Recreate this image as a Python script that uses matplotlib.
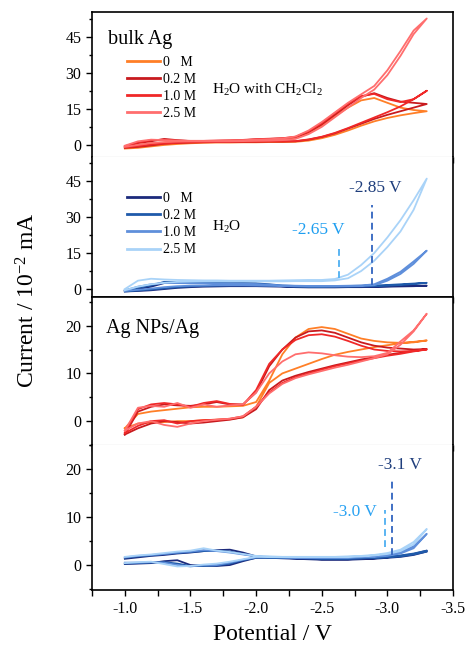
import matplotlib
matplotlib.use("Agg")
import matplotlib.pyplot as plt
from matplotlib.ticker import MultipleLocator

plt.rcParams['font.family'] = ['Liberation Serif', 'DejaVu Serif']
plt.rcParams['mathtext.fontset'] = 'custom'
plt.rcParams['mathtext.rm'] = 'Liberation Serif'
plt.rcParams['mathtext.it'] = 'Liberation Serif:italic'

potential = [-1.0, -1.1, -1.2, -1.3, -1.4, -1.5, -1.6, -1.7, -1.8, -1.9, -2.0, -2.1,
             -2.2, -2.3, -2.4, -2.5, -2.6, -2.7, -2.8, -2.9, -3.0, -3.1, -3.2, -3.3]
labels = ['0   M', '0.2 M', '1.0 M', '2.5 M']

# bulk Ag, H2O with CH2Cl2 (forward / reverse sweep)
ch_0_fwd = [-1.5, -1.2, -0.6, 0.0, 0.4, 0.7, 0.9, 1.0, 1.0, 1.1, 1.1, 1.2, 1.2, 1.3, 1.8, 2.8, 4.2, 6.0, 8.0, 9.8, 11.2, 12.3, 13.2, 14.0]
ch_0_rev = [-1.0, 0.0, 0.8, 1.0, 1.2, 1.3, 1.4, 1.5, 1.6, 1.8, 2.0, 2.1, 2.3, 3.0, 5.0, 8.0, 12.0, 15.5, 18.5, 19.5, 17.5, 15.5, 14.5, 14.0]
ch_02_fwd = [-1.2, -0.8, -0.2, 0.5, 0.8, 1.0, 1.1, 1.2, 1.2, 1.3, 1.3, 1.4, 1.4, 1.5, 2.2, 3.3, 4.8, 6.8, 8.8, 10.8, 12.5, 14.0, 15.5, 17.0]
ch_02_rev = [-0.8, 0.8, 1.5, 2.5, 2.0, 1.6, 1.6, 1.7, 1.8, 2.0, 2.3, 2.5, 2.7, 3.2, 5.3, 8.5, 12.5, 16.5, 20.0, 21.5, 19.5, 18.0, 17.5, 17.0]
ch_10_fwd = [-1.0, -0.5, 0.2, 0.6, 0.9, 1.1, 1.2, 1.3, 1.3, 1.4, 1.4, 1.5, 1.5, 1.6, 2.3, 3.4, 5.0, 7.0, 9.2, 11.4, 13.6, 16.0, 19.0, 22.5]
ch_10_rev = [-0.5, 1.0, 2.0, 2.2, 1.8, 1.7, 1.7, 1.8, 1.9, 2.1, 2.4, 2.6, 2.8, 3.4, 5.6, 9.0, 13.2, 17.0, 20.3, 21.2, 19.0, 17.8, 19.0, 22.5]
ch_25_fwd = [-0.8, 0.0, 0.8, 1.2, 1.4, 1.5, 1.5, 1.5, 1.5, 1.6, 1.7, 1.8, 2.0, 2.5, 4.5, 7.5, 11.5, 15.5, 19.5, 23.0, 29.0, 37.0, 46.0, 52.5]
ch_25_rev = [-0.3, 1.5, 2.2, 2.0, 1.8, 1.7, 1.7, 1.8, 1.9, 2.0, 2.2, 2.4, 2.7, 3.5, 6.0, 9.5, 13.5, 17.5, 21.0, 24.5, 31.0, 39.0, 47.5, 52.5]

# bulk Ag, H2O
w_0_fwd = [-1.0, -0.8, -0.5, 0.0, 0.5, 0.8, 1.0, 1.1, 1.2, 1.2, 1.2, 1.1, 1.0, 0.8, 0.7, 0.7, 0.7, 0.8, 0.8, 0.9, 1.0, 1.1, 1.2, 1.4]
w_0_rev = [-0.8, 0.0, 1.0, 2.5, 2.8, 2.6, 2.5, 2.5, 2.4, 2.3, 2.2, 1.6, 1.2, 1.0, 0.9, 0.9, 1.0, 1.0, 1.1, 1.1, 1.2, 1.3, 1.4, 1.4]
w_02_fwd = [-1.0, -0.6, -0.2, 0.3, 0.8, 1.1, 1.3, 1.4, 1.5, 1.5, 1.5, 1.4, 1.2, 1.0, 0.9, 0.9, 1.0, 1.0, 1.1, 1.2, 1.4, 1.7, 2.1, 2.6]
w_02_rev = [-0.6, 0.5, 1.5, 3.0, 3.0, 2.8, 2.7, 2.6, 2.5, 2.5, 2.4, 2.0, 1.5, 1.3, 1.2, 1.2, 1.2, 1.3, 1.4, 1.5, 1.7, 2.0, 2.3, 2.6]
w_10_fwd = [-0.8, -0.3, 0.2, 0.8, 1.2, 1.4, 1.5, 1.6, 1.6, 1.6, 1.5, 1.4, 1.3, 1.2, 1.1, 1.1, 1.1, 1.2, 1.3, 1.6, 3.5, 6.3, 10.5, 16.0]
w_10_rev = [-0.5, 1.0, 2.0, 2.6, 2.5, 2.4, 2.4, 2.3, 2.3, 2.2, 2.1, 1.8, 1.5, 1.4, 1.3, 1.3, 1.3, 1.4, 1.5, 2.0, 4.3, 7.2, 11.5, 16.0]
w_25_fwd = [-0.5, 1.0, 2.0, 2.6, 3.0, 3.1, 3.2, 3.2, 3.2, 3.2, 3.2, 3.2, 3.2, 3.3, 3.3, 3.3, 3.6, 4.5, 7.5, 11.8, 17.5, 24.0, 33.0, 46.0]
w_25_rev = [0.0, 3.5, 4.3, 4.0, 3.8, 3.7, 3.6, 3.6, 3.5, 3.5, 3.5, 3.5, 3.6, 3.7, 3.8, 3.8, 4.2, 6.0, 10.0, 15.0, 21.5, 28.7, 37.0, 46.0]

# Ag NPs/Ag, H2O with CH2Cl2
np_ch_0_fwd = [-1.5, -0.5, -0.3, -0.2, 0.0, 0.0, 0.2, 0.3, 0.4, 0.8, 3.0, 8.0, 10.0, 11.0, 12.0, 13.0, 13.9, 14.5, 15.0, 15.5, 15.9, 16.3, 16.6, 16.9]
np_ch_0_rev = [-1.5, 1.5, 2.0, 2.3, 2.6, 2.9, 3.0, 3.0, 3.1, 3.2, 4.0, 8.5, 14.0, 17.5, 19.3, 19.7, 19.3, 18.3, 17.3, 16.8, 16.5, 16.4, 16.5, 16.9]
np_ch_02_fwd = [-2.8, -1.5, -0.5, 0.0, -0.2, -0.5, -0.3, 0.0, 0.3, 0.8, 2.5, 6.5, 8.5, 9.5, 10.3, 11.0, 11.7, 12.3, 12.9, 13.4, 13.9, 14.3, 14.7, 15.1]
np_ch_02_rev = [-2.8, 2.0, 3.0, 3.5, 3.3, 3.2, 3.5, 4.0, 3.5, 3.5, 6.0, 11.5, 15.0, 17.5, 18.8, 19.0, 18.5, 17.5, 16.5, 15.8, 15.4, 15.2, 15.0, 15.1]
np_ch_10_fwd = [-2.5, -1.0, 0.0, 0.2, -0.5, 0.0, 0.2, 0.3, 0.5, 1.0, 3.0, 6.0, 8.0, 9.2, 10.0, 10.8, 11.5, 12.1, 12.7, 13.2, 13.7, 14.1, 14.6, 15.0]
np_ch_10_rev = [-2.5, 2.5, 3.5, 3.8, 3.5, 3.0, 3.8, 4.2, 3.6, 3.4, 6.5, 12.0, 15.0, 17.0, 18.0, 18.2, 17.7, 16.8, 15.8, 15.0, 14.7, 14.6, 14.7, 15.0]
np_ch_25_fwd = [-2.0, -0.5, 0.0, -0.8, -1.2, -0.5, 0.0, 0.3, 0.5, 1.0, 3.0, 5.8, 7.8, 9.0, 9.8, 10.5, 11.2, 11.8, 12.5, 13.2, 14.0, 16.0, 18.8, 22.5]
np_ch_25_rev = [-2.0, 2.8, 3.2, 3.0, 3.8, 2.8, 3.5, 3.0, 3.3, 3.5, 6.0, 10.0, 12.5, 14.0, 14.4, 14.2, 13.8, 13.5, 13.4, 13.6, 14.3, 16.7, 19.0, 22.5]

# Ag NPs/Ag, H2O
np_w_0_fwd = [0.2, 0.3, 0.4, 0.8, 1.0, 0.0, -0.1, -0.2, 0.0, 0.8, 1.5, 1.5, 1.4, 1.3, 1.2, 1.1, 1.1, 1.1, 1.2, 1.3, 1.5, 1.7, 2.1, 2.8]
np_w_0_rev = [1.3, 1.6, 1.9, 2.1, 2.4, 2.6, 2.9, 3.1, 3.2, 2.6, 1.8, 1.6, 1.5, 1.4, 1.3, 1.2, 1.2, 1.2, 1.3, 1.4, 1.6, 1.9, 2.3, 3.0]
np_w_02_fwd = [0.3, 0.4, 0.5, 0.6, 0.3, -0.2, -0.2, -0.1, 0.3, 1.0, 1.5, 1.5, 1.5, 1.4, 1.4, 1.3, 1.3, 1.3, 1.4, 1.5, 1.6, 1.8, 2.2, 2.8]
np_w_02_rev = [1.5, 1.8, 2.0, 2.3, 2.5, 2.7, 2.9, 3.0, 2.8, 2.3, 1.8, 1.6, 1.5, 1.5, 1.4, 1.4, 1.4, 1.4, 1.4, 1.5, 1.7, 2.0, 2.4, 3.0]
np_w_10_fwd = [0.5, 0.5, 0.6, 0.5, 0.0, -0.3, 0.0, 0.0, 0.5, 1.1, 1.6, 1.6, 1.6, 1.5, 1.5, 1.5, 1.5, 1.5, 1.6, 1.7, 1.9, 2.4, 3.5, 6.5]
np_w_10_rev = [1.6, 1.9, 2.1, 2.3, 2.6, 2.8, 3.1, 2.9, 2.6, 2.2, 1.8, 1.7, 1.6, 1.6, 1.6, 1.6, 1.6, 1.6, 1.7, 1.8, 2.1, 2.7, 3.9, 6.5]
np_w_25_fwd = [0.4, 0.6, 0.7, 0.2, -0.3, -0.2, 0.1, 0.3, 0.7, 1.2, 1.7, 1.7, 1.7, 1.7, 1.7, 1.7, 1.7, 1.7, 1.8, 2.0, 2.3, 2.9, 4.3, 7.5]
np_w_25_rev = [1.7, 2.0, 2.2, 2.5, 2.8, 3.0, 3.5, 3.0, 2.7, 2.3, 1.9, 1.8, 1.7, 1.7, 1.7, 1.7, 1.7, 1.8, 1.9, 2.1, 2.5, 3.2, 4.8, 7.5]

reds = ['#ff7f27', '#c81a1e', '#f02828', '#ff6e6e']
blues = ['#1c2a7c', '#1f5aaa', '#5f8fdb', '#a9d3f8']

panels = [
    ([(ch_0_fwd, ch_0_rev), (ch_02_fwd, ch_02_rev), (ch_10_fwd, ch_10_rev), (ch_25_fwd, ch_25_rev)], reds, (-5, 55.2)),
    ([(w_0_fwd, w_0_rev), (w_02_fwd, w_02_rev), (w_10_fwd, w_10_rev), (w_25_fwd, w_25_rev)], blues, (-3.3, 55)),
    ([(np_ch_0_fwd, np_ch_0_rev), (np_ch_02_fwd, np_ch_02_rev), (np_ch_10_fwd, np_ch_10_rev), (np_ch_25_fwd, np_ch_25_rev)], reds, (-5, 26)),
    ([(np_w_0_fwd, np_w_0_rev), (np_w_02_fwd, np_w_02_rev), (np_w_10_fwd, np_w_10_rev), (np_w_25_fwd, np_w_25_rev)], blues, (-5.2, 25)),
]

fig = plt.figure(figsize=(4.7, 6.52), dpi=100)
W, H = 470, 652
left, right = 92, 453
edges = [12, 157, 297, 445, 590]
axes = []
for k in range(4):
    top, bot = edges[k], edges[k + 1]
    ax = fig.add_axes([left / W, 1 - bot / H, (right - left) / W, (bot - top) / H])
    axes.append(ax)

for k, (ax, (curves, cols, ylim)) in enumerate(zip(axes, panels)):
    for (fwd, rev), c, lab in zip(curves, cols, labels):
        xs = potential + potential[::-1]
        ys = fwd + rev[::-1]
        ax.plot(xs, ys, color=c, lw=1.3, label=lab, solid_joinstyle='round')
    ax.set_xlim(-0.75, -3.5)
    ax.set_ylim(*ylim)
    ax.xaxis.set_major_locator(MultipleLocator(0.5))
    ax.xaxis.set_minor_locator(MultipleLocator(0.25))
    if k in (0, 1):
        ax.yaxis.set_major_locator(MultipleLocator(15))
        ax.yaxis.set_minor_locator(MultipleLocator(7.5))
    else:
        ax.yaxis.set_major_locator(MultipleLocator(10))
        ax.yaxis.set_minor_locator(MultipleLocator(5))
    ax.tick_params(which='both', direction='out', top=False, right=False, labelsize=11.5, width=1)
    ax.tick_params(which='major', length=4)
    ax.tick_params(which='minor', length=2.5)
    ax.tick_params(axis='x', which='minor', length=4)
    for s in ax.spines.values():
        s.set_linewidth(1.2)
    if k < 3:
        ax.tick_params(axis='x', labelbottom=False)
    if k in (0, 2):
        ax.spines['bottom'].set_color('#999999')
        ax.spines['bottom'].set_linewidth(0.8)
    if k in (1, 3):
        ax.spines['top'].set_visible(False)

axes[3].tick_params(axis='x', labelsize=11.5, pad=4)
axes[3].set_xticks([-1.0, -1.5, -2.0, -2.5, -3.0, -3.5])
axes[3].set_xticklabels(['-1.0', '-1.5', '-2.0', '-2.5', '-3.0', '-3.5'])
for ax in axes:
    ax.set_yticklabels([f'{int(t)}' for t in ax.get_yticks()])

leg_kw = dict(frameon=False, fontsize=10, handlelength=2.4, handletextpad=0.2,
              labelspacing=0.3, borderpad=0, borderaxespad=0, loc='upper left')
axes[0].legend(bbox_to_anchor=(0.097, 0.70), **leg_kw)
axes[1].legend(bbox_to_anchor=(0.097, 0.75), **leg_kw)
for ax in axes[:2]:
    for ln in ax.get_legend().get_lines():
        ln.set_linewidth(2)

axes[0].text(0.044, 0.807, 'bulk Ag', transform=axes[0].transAxes, fontsize=14.5, va='center')
axes[2].text(0.04, 0.79, 'Ag NPs/Ag', transform=axes[2].transAxes, fontsize=14.5, va='center')
axes[0].text(0.332, 0.462, r'H$_2$O with CH$_2$Cl$_2$', transform=axes[0].transAxes, fontsize=11, va='center')
axes[1].text(0.332, 0.50, r'H$_2$O', transform=axes[1].transAxes, fontsize=11, va='center')

dash = (0, (3.5, 2.2))
axes[1].plot([-2.88, -2.88], [1.6, 35], color='#3f6fc4', lw=1.4, ls=dash)
axes[1].plot([-2.63, -2.63], [4.5, 17.5], color='#5ab4f2', lw=1.4, ls=dash)
axes[1].text(-2.905, 42, '-2.85 V', color='#1f3e7c', fontsize=12.5, ha='center', va='center')
axes[1].text(-2.471, 24.6, '-2.65 V', color='#1e9ef0', fontsize=12.5, ha='center', va='center')
axes[3].plot([-3.035, -3.035], [2.0, 18], color='#3f6fc4', lw=1.4, ls=dash)
axes[3].plot([-2.98, -2.98], [3.8, 11.5], color='#5ab4f2', lw=1.4, ls=dash)
axes[3].text(-3.096, 20.8, '-3.1 V', color='#1f3e7c', fontsize=12.5, ha='center', va='center')
axes[3].text(-2.753, 11, '-3.0 V', color='#2aa2f2', fontsize=12.5, ha='center', va='center')

fig.text(28 / W, 1 - 300 / H, r'Current / 10$^{-2}$ mA', rotation=90, fontsize=17, ha='center', va='center')
fig.text((left + right) / 2 / W, 1 - 634 / H, 'Potential / V', fontsize=17, ha='center', va='center')

fig.savefig('out.png', dpi=100)
